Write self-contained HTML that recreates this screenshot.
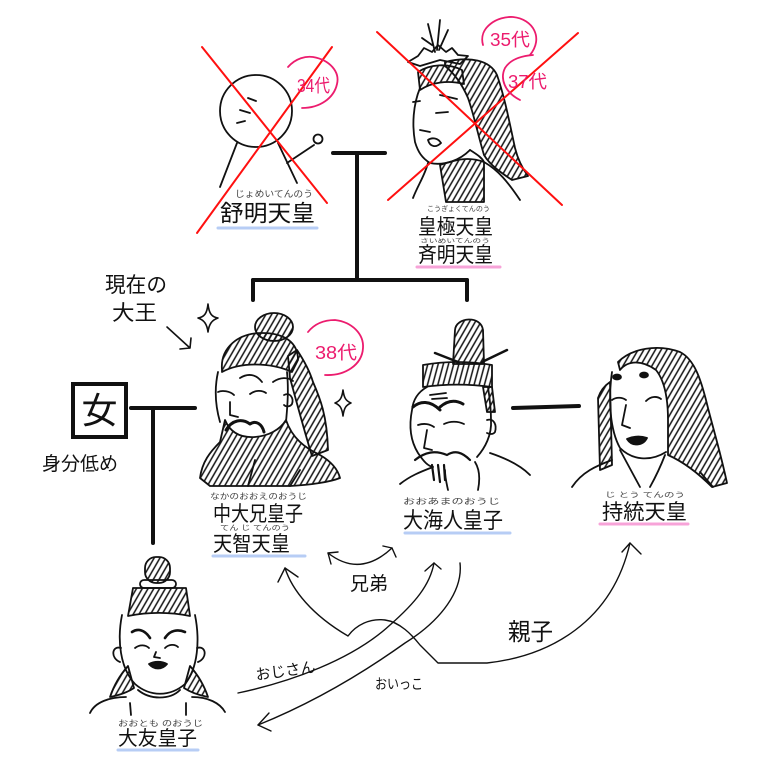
<!DOCTYPE html>
<html><head><meta charset="utf-8"><style>
html,body{margin:0;padding:0;background:#fff;}
svg{display:block;}
text{font-family:"Liberation Sans","Noto Sans CJK JP",sans-serif;}
</style></head><body>
<svg width="768" height="768" viewBox="0 0 768 768" xmlns="http://www.w3.org/2000/svg">
<defs>
<pattern id="h" patternUnits="userSpaceOnUse" width="5" height="5" patternTransform="rotate(30)"><line x1="2.5" y1="0" x2="2.5" y2="5" stroke="#111" stroke-width="1.5"/></pattern>
<pattern id="v" patternUnits="userSpaceOnUse" width="5" height="5" patternTransform="rotate(15)"><line x1="2.5" y1="0" x2="2.5" y2="5" stroke="#111" stroke-width="1.5"/></pattern>
</defs>
<rect width="768" height="768" fill="#fff"/>

<g fill="none" stroke="#111" stroke-width="1.8" stroke-linecap="round" stroke-linejoin="round">
<!-- stick figure -->
<ellipse cx="256" cy="111" rx="36" ry="36"/>
<path d="M248 98 L256 101 M240 110 L250 113 M237 123 L245 121"/>
<path d="M237 143 L220 187 M278 143 L297 183 M287 163 L314 145"/>
<circle cx="318" cy="139" r="4.5"/>

<!-- Empress -->
<path d="M435 52 L428 24 M437 50 L440 20 M439 50 L448 30 M432 45 L422 38"/>
<path d="M408 62 L418 56 L424 48 L432 52 L438 45 L446 52 L452 48 L458 55 L468 56 L460 64 L440 60 L420 66 Z"/>
<path d="M445 62 C470 56 490 60 497 75 C505 98 510 125 515 148 C518 160 522 168 528 176 L512 180 C500 172 490 165 484 155 C478 135 474 115 468 98 C462 84 455 74 445 66 Z" fill="url(#h)"/>
<path d="M418 72 C430 64 448 63 462 70 L464 84 C448 80 432 82 420 90 Z" fill="url(#h)"/>
<path d="M420 88 C413 105 412 125 415 142 C418 152 422 158 430 163 C445 166 460 160 470 150"/>
<path d="M440 95 L457 99 M436 113 L448 112 M413 102 L420 101 M420 130 L430 132 M428 140 C432 137 438 138 441 143 C436 148 430 147 428 140 Z"/>
<path d="M440 165 C455 160 468 156 484 162 L484 202 L446 202 Z" fill="url(#h)"/>
<path d="M428 163 C425 175 418 185 413 198 M484 162 C498 170 508 182 520 200 M470 150 C478 155 482 158 484 162"/>

<!-- Tenji (中大兄) -->
<ellipse cx="274" cy="327" rx="19" ry="14" fill="url(#h)"/>
<path d="M222 370 C220 348 238 333 262 333 C284 333 298 342 298 360 L292 372 C270 362 240 362 222 372 Z" fill="url(#h)"/>
<path d="M288 356 L297 350 C305 362 310 372 313 382 C320 398 327 415 328 450 L312 456 C304 430 296 400 290 378 Z" fill="url(#h)"/>
<path d="M200 478 C202 462 210 452 220 442 L225 420 C230 432 240 438 255 437 C268 436 280 430 286 420 C292 438 305 448 320 455 C332 462 338 470 340 478 C330 482 310 485 290 486 L210 486 Z" fill="url(#h)"/>
<path d="M218 372 C214 390 216 408 220 422 M287 372 C289 392 287 410 286 422"/>
<path d="M240 378 C248 373 256 374 262 382 M273 382 C280 377 288 377 293 381 M218 392 C222 390 230 391 234 395 M250 394 C255 390 262 390 266 393 M230 402 L230 415 L238 417"/>
<path d="M226 430 C232 420 242 418 250 424 C256 420 262 424 264 432" stroke-width="3"/>
<path d="M284 395 C290 392 294 398 292 404 C290 407 286 407 284 405"/>
<path d="M290 486 L300 470 M248 486 L255 460"/>

<!-- Tenmu (大海人) -->
<path d="M453 364 L455 330 C456 317 481 315 483 330 L484 364 Z" fill="url(#h)"/>
<path d="M435 353 L458 362 M482 362 L507 350" stroke-width="2.5"/>
<path d="M423 365 C445 361 470 361 492 365 L492 387 C470 384 445 384 423 387 Z" fill="url(#v)"/>
<path d="M483 387 L492 387 L495 412 L487 412 Z" fill="url(#h)"/>
<path d="M427 387 C418 392 413 400 412 410 C409 425 410 440 418 453 C424 462 428 466 433 467 M488 387 C490 400 491 412 491 420 C492 435 485 448 477 457"/>
<path d="M430 395 L446 393 M432 399 L447 398"/>
<path d="M413 407 C420 401 430 400 440 410 M440 407 C448 400 456 400 463 404" stroke-width="3"/>
<path d="M418 425 C424 423 430 424 434 427 M444 424 C450 421 458 421 464 424 M427 430 L424 448 L432 450"/>
<path d="M487 420 C494 418 497 425 495 432 C493 435 489 434 487 433"/>
<path d="M415 460 C425 452 435 450 447 455 C455 450 462 452 470 460 M432 465 L434 480 M438 465 L440 482 M444 465 L445 480" stroke-width="2.2"/>
<path d="M400 484 C410 476 420 472 433 467 M490 453 C505 458 520 465 530 475 M445 470 C445 478 447 485 448 490 M475 462 C480 470 480 480 478 490"/>

<!-- Jito -->
<path d="M618 362 C632 348 658 344 680 352 C696 360 702 385 706 400 C712 425 720 450 727 483 L712 487 C700 475 686 463 668 455 L668 420 C668 396 664 380 656 370 C642 360 628 360 620 370 Z" fill="url(#h)"/>
<path d="M598 398 C600 392 604 386 610 382 L612 465 L600 470 Z" fill="url(#h)"/>
<path d="M612 372 C608 400 610 430 620 448 C632 460 650 462 666 452"/>
<ellipse cx="617" cy="377" rx="4" ry="2.5" fill="#111"/>
<ellipse cx="644" cy="375" rx="4" ry="2.5" fill="#111"/>
<path d="M612 400 C616 397 622 397 626 400 M646 401 C651 396 657 396 661 399 M626 405 L622 425 L630 428"/>
<path d="M627 439 C634 436 641 436 647 438 C643 446 632 447 627 439 Z" fill="#111"/>
<path d="M572 487 C582 472 596 466 612 460 M620 450 L640 487 M665 455 C660 468 655 478 650 487 M700 472 L713 487"/>

<!-- Otomo -->
<rect x="145" y="557" width="25" height="26" rx="11" fill="url(#h)"/>
<rect x="140" y="580" width="36" height="8" rx="4"/>
<path d="M128 616 L133 588 L186 588 L190 616 C170 612 148 612 128 616 Z" fill="url(#h)"/>
<path d="M122 615 C117 640 120 668 135 684 C150 697 170 697 185 684 C198 668 200 640 195 615"/>
<path d="M121 648 C112 645 110 658 120 662 M197 648 C206 645 208 658 198 662"/>
<path d="M132 632 C138 628 145 630 150 638 M165 638 C170 630 178 629 185 632" stroke-width="2.6"/>
<path d="M135 648 C140 644 146 645 149 648 M165 648 C169 644 175 644 178 647 M156 652 L154 657 L160 658"/>
<path d="M149 664 C154 661 162 661 167 664 C162 670 154 670 149 664 Z" fill="#111"/>
<path d="M110 697 C114 685 120 675 128 666 L134 688 C128 692 120 695 110 697 Z" fill="url(#h)"/>
<path d="M208 697 C204 685 198 675 190 666 L184 688 C190 692 198 695 208 697 Z" fill="url(#h)"/>
<path d="M138 690 C150 700 170 700 180 690 M90 713 C95 702 110 697 126 697 M192 697 C208 697 220 703 225 712 M130 703 L131 715 M186 703 L186 715"/>
</g>

<!-- red X -->
<g stroke="#ff1010" stroke-width="2" stroke-linecap="round">
<line x1="202" y1="47" x2="327" y2="203"/>
<line x1="332" y1="47" x2="197" y2="233"/>
<line x1="377" y1="32" x2="562" y2="205"/>
<line x1="578" y1="33" x2="388" y2="200"/>
</g>

<!-- pink marks -->
<g fill="none" stroke="#ec1c6e" stroke-width="1.8" stroke-linecap="round">
<path d="M288 67 C296 58 306 56 313 57 C330 60 340 72 337 84 C334 98 320 108 302 108"/>
<path d="M483 45 C478 27 498 16 513 17 C533 19 544 38 530 55"/>
<path d="M533 55 C520 56 510 60 505 68 C500 78 504 92 520 100"/>
<path d="M308 332 C316 322 326 320 335 320 C352 322 364 334 363 348 C362 365 345 376 325 375"/>
</g>
<g fill="#ec1c6e" font-size="18">
<text x="297" y="92" textLength="33" lengthAdjust="spacingAndGlyphs">34代</text>
<text x="490" y="46" textLength="40" lengthAdjust="spacingAndGlyphs">35代</text>
<text x="508" y="88" textLength="39" lengthAdjust="spacingAndGlyphs">37代</text>
<text x="315" y="359" textLength="42" lengthAdjust="spacingAndGlyphs">38代</text>
</g>

<!-- thick tree lines -->
<g stroke="#111" stroke-width="4" stroke-linecap="round" fill="none">
<line x1="333" y1="153" x2="385" y2="153"/>
<line x1="357" y1="153" x2="357" y2="278"/>
<line x1="253" y1="280" x2="467" y2="280"/>
<line x1="253" y1="280" x2="253" y2="300"/>
<line x1="467" y1="280" x2="467" y2="300"/>
<rect x="73" y="384" width="53" height="53"/>
<line x1="131" y1="408" x2="195" y2="408"/>
<line x1="153" y1="408" x2="153" y2="543"/>
<line x1="513" y1="408" x2="579" y2="406"/>
</g>
<text x="99.5" y="423" font-size="36" text-anchor="middle" fill="#111">女</text>

<!-- sparkles & arrow -->
<g fill="none" stroke="#111" stroke-width="1.6" stroke-linejoin="round" stroke-linecap="round">
<path d="M208 304 C209 314 212 317 218 318 C212 320 209 324 208 332 C207 324 204 320 198 318 C204 317 207 314 208 304 Z"/>
<path d="M343 390 C344 398 346 401 351 403 C346 405 344 408 343 416 C342 408 340 405 335 403 C340 401 342 398 343 390 Z"/>
<path d="M167 327 L190 348 M180 349 L190 348 L191 338"/>
</g>

<!-- bottom arrows -->
<g fill="none" stroke="#111" stroke-width="1.4" stroke-linecap="round" stroke-linejoin="round">
<path d="M328 553 Q360 578 392 548"/>
<path d="M338 552 L328 553 L331 564 M383 546 L392 548 L396 557"/>
<path d="M285 568 C292 590 312 615 348 636 C356 625 370 618 385 620 C400 622 412 635 420 645 L438 663 L487 663 C550 656 612 622 630 543"/>
<path d="M278 582 L285 568 L298 577 M622 552 L630 543 L641 554"/>
<path d="M238 693 C290 682 352 660 390 625 C415 603 430 585 434 563"/>
<path d="M425 571 L434 563 L441 569"/>
<path d="M460 563 C463 590 442 620 405 643 C370 668 320 700 258 725"/>
<path d="M269 713 L258 725 L271 731"/>
</g>

<!-- labels -->
<g fill="#111">
<text x="105" y="292" font-size="21" textLength="62" lengthAdjust="spacingAndGlyphs">現在の</text>
<text x="112" y="320" font-size="21" textLength="45" lengthAdjust="spacingAndGlyphs">大王</text>
<text x="42" y="470" font-size="19" textLength="76" lengthAdjust="spacingAndGlyphs">身分低め</text>
<text x="350" y="590" font-size="19" textLength="38" lengthAdjust="spacingAndGlyphs">兄弟</text>
<text x="508" y="640" font-size="24" textLength="45" lengthAdjust="spacingAndGlyphs">親子</text>
<text x="255" y="676" font-size="15" textLength="60" lengthAdjust="spacingAndGlyphs" transform="rotate(-8 285 668)">おじさん</text>
<text x="375" y="689" font-size="14" textLength="48" lengthAdjust="spacingAndGlyphs">おいっこ</text>

<text x="220" y="221" font-size="23" textLength="95" lengthAdjust="spacingAndGlyphs">舒明天皇</text>
<text x="418" y="234" font-size="21" textLength="75" lengthAdjust="spacingAndGlyphs">皇極天皇</text>
<text x="418" y="262" font-size="21" textLength="75" lengthAdjust="spacingAndGlyphs">斉明天皇</text>
<text x="213" y="521" font-size="21" textLength="90" lengthAdjust="spacingAndGlyphs">中大兄皇子</text>
<text x="213" y="551" font-size="21" textLength="77" lengthAdjust="spacingAndGlyphs">天智天皇</text>
<text x="403" y="528" font-size="22" textLength="100" lengthAdjust="spacingAndGlyphs">大海人皇子</text>
<text x="602" y="519" font-size="21" textLength="85" lengthAdjust="spacingAndGlyphs">持統天皇</text>
<text x="118" y="745" font-size="20" textLength="79" lengthAdjust="spacingAndGlyphs">大友皇子</text>
</g>
<g fill="#444">
<text x="235" y="197" font-size="9" textLength="78" lengthAdjust="spacingAndGlyphs">じょめいてんのう</text>
<text x="427" y="211" font-size="7" textLength="63" lengthAdjust="spacingAndGlyphs">こうぎょくてんのう</text>
<text x="420" y="243" font-size="6" textLength="70" lengthAdjust="spacingAndGlyphs">さいめいてんのう</text>
<text x="210" y="499" font-size="8" textLength="97" lengthAdjust="spacingAndGlyphs">なかのおおえのおうじ</text>
<text x="220" y="530" font-size="7" textLength="70" lengthAdjust="spacingAndGlyphs">てん じ てんのう</text>
<text x="403" y="504" font-size="8" textLength="97" lengthAdjust="spacingAndGlyphs">おおあまのおうじ</text>
<text x="605" y="497" font-size="7" textLength="80" lengthAdjust="spacingAndGlyphs">じ とう  てんのう</text>
<text x="118" y="726" font-size="8" textLength="85" lengthAdjust="spacingAndGlyphs">おおとも のおうじ</text>
</g>

<!-- underlines -->
<g stroke-width="3" stroke-linecap="round">
<line x1="218" y1="228" x2="317" y2="228" stroke="#b7cdf5"/>
<line x1="417" y1="267" x2="500" y2="267" stroke="#f7a3d8"/>
<line x1="213" y1="556" x2="305" y2="556" stroke="#b7cdf5"/>
<line x1="405" y1="533" x2="510" y2="533" stroke="#b7cdf5"/>
<line x1="600" y1="524" x2="688" y2="524" stroke="#f7a3d8"/>
<line x1="118" y1="750" x2="198" y2="750" stroke="#b7cdf5"/>
</g>
</svg>
</body></html>
